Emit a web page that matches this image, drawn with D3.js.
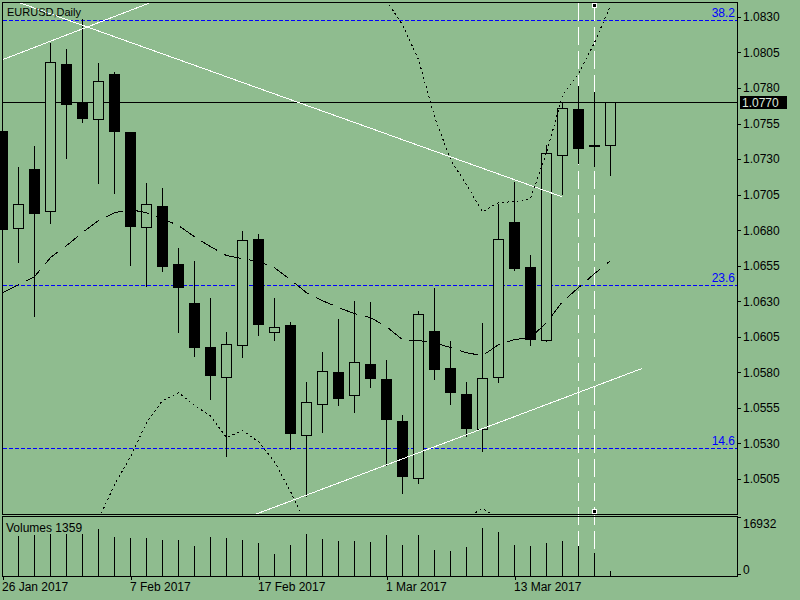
<!DOCTYPE html>
<html>
<head>
<meta charset="utf-8">
<script src="https://cdn.jsdelivr.net/npm/d3@7"></script>
<style>
body { margin: 0; background: #8fbc8f; }
svg { display: block; font-family: "Liberation Sans", Arial, sans-serif; }
line, rect, path { shape-rendering: crispEdges; }
</style>
</head>
<body>
<svg width="800" height="600"></svg>
<script>
const dates = ["26 Jan 2017", "27 Jan 2017", "30 Jan 2017", "31 Jan 2017", "1 Feb 2017", "2 Feb 2017", "3 Feb 2017",
    "6 Feb 2017", "7 Feb 2017", "8 Feb 2017", "9 Feb 2017", "10 Feb 2017", "13 Feb 2017", "14 Feb 2017", "15 Feb 2017",
    "16 Feb 2017", "17 Feb 2017", "20 Feb 2017", "21 Feb 2017", "22 Feb 2017", "23 Feb 2017", "24 Feb 2017", "27 Feb 2017",
    "28 Feb 2017", "1 Mar 2017", "2 Mar 2017", "3 Mar 2017", "6 Mar 2017", "7 Mar 2017", "8 Mar 2017", "9 Mar 2017",
    "10 Mar 2017", "13 Mar 2017", "14 Mar 2017", "15 Mar 2017", "16 Mar 2017", "17 Mar 2017", "20 Mar 2017", "21 Mar 2017"];

const open = [1.07500, 1.06818, 1.07233, 1.06937, 1.07971, 1.07702, 1.07582, 1.07901, 1.07493, 1.06820,
    1.06972, 1.06564, 1.06290, 1.05978, 1.05767, 1.05993, 1.06741, 1.06084, 1.06135, 1.05359,
    1.05577, 1.05805, 1.05641, 1.05861, 1.05756, 1.05460, 1.05054, 1.06093, 1.05833, 1.05650,
    1.05402, 1.05767, 1.06860, 1.06543, 1.06030, 1.07329, 1.07655, 1.07397, 1.07397];
const high = [1.07520, 1.07254, 1.07402, 1.08124, 1.08082, 1.08293, 1.07986, 1.07922, 1.07500, 1.07141,
    1.07106, 1.06684, 1.06593, 1.06332, 1.06093, 1.06799, 1.06780, 1.06332, 1.06159, 1.05741,
    1.05952, 1.06182, 1.06311, 1.06304, 1.05896, 1.05509, 1.06241, 1.06400, 1.06030, 1.05741,
    1.06156, 1.06991, 1.07148, 1.06635, 1.07404, 1.07706, 1.07824, 1.07777, 1.07700];
const low = [1.06720, 1.06579, 1.06199, 1.06851, 1.07305, 1.07559, 1.07129, 1.07059, 1.06557, 1.06405,
    1.06510, 1.06081, 1.05917, 1.05610, 1.05209, 1.05905, 1.06060, 1.06025, 1.05261, 1.04932,
    1.05378, 1.05568, 1.05518, 1.05694, 1.05145, 1.04951, 1.05022, 1.05753, 1.05577, 1.05354,
    1.05247, 1.05729, 1.06517, 1.05995, 1.06023, 1.07057, 1.07273, 1.07249, 1.07186];
const close = [1.06810, 1.06987, 1.06923, 1.07986, 1.07690, 1.07587, 1.07852, 1.07495, 1.06827, 1.06987,
    1.06545, 1.06398, 1.05976, 1.05779, 1.06000, 1.06733, 1.06137, 1.06119, 1.05371, 1.05592,
    1.05810, 1.05617, 1.05873, 1.05758, 1.05469, 1.05068, 1.06211, 1.05824, 1.05659, 1.05406,
    1.05763, 1.06738, 1.06531, 1.06037, 1.07343, 1.07660, 1.07376, 1.07397, 1.07700];

const volumes = [16932, 11480, 11853, 12054, 12054, 12140, 13489, 11193, 10906, 10906,
    10332, 10332, 8610, 11193, 10906, 10332, 9471, 6400, 8897, 12054,
    10619, 10045, 10045, 9758, 11767, 8897, 11767, 7462, 7175, 8323,
    13776, 12628, 8897, 8610, 9471, 10045, 8610, 6601, 1359];

// middle line and the two dotted bands, read per bar (null = off the chart)
const maLine = [1.06360, 1.06417, 1.06473, 1.06607, 1.06691, 1.06783, 1.06867, 1.06923, 1.06944, 1.06923,
    1.06881, 1.06832, 1.06754, 1.06684, 1.06621, 1.06600, 1.06579, 1.06536, 1.06452, 1.06360,
    1.06304, 1.06255, 1.06213, 1.06185, 1.06121, 1.06030, 1.06023, 1.06009, 1.05974, 1.05938,
    1.05917, 1.05995, 1.06030, 1.06044, 1.06149, 1.06297, 1.06396, 1.06494, 1.06586];
const upperBand = [null, null, null, null, null, null, null, null, null, null,
    null, null, null, null, null, null, null, null, null, null,
    null, null, null, 1.08633, 1.08415, 1.08246, 1.08000, 1.07599, 1.07296, 1.07120,
    1.06930, 1.06994, 1.07001, 1.07022, 1.07345, 1.07746, 1.07901, 1.08119, 1.08380];
const lowerBand = [null, null, null, null, null, 1.04482, 1.04764, 1.05010, 1.05207, 1.05446,
    1.05601, 1.05657, 1.05566, 1.05495, 1.05340, 1.05390, 1.05312, 1.05172, 1.04961, 1.04728,
    null, null, null, null, null, null, null, null, null, 1.04778,
    1.04841, 1.04778, null, null, null, null, null, null, null];

const priceTicks = [1.0830, 1.0805, 1.0780, 1.0755, 1.0730, 1.0705, 1.0680, 1.0655, 1.0630, 1.0605, 1.0580, 1.0555, 1.0530, 1.0505];
const dateTicks = [0, 8, 16, 24, 32];

const fibLevels = [
    { label: "38.2", value: 1.08281 },
    { label: "23.6", value: 1.06417 },
    { label: "14.6", value: 1.05270 }
];

// trend lines as [bar index, price] pairs
const trendLines = [
    [[-1.406, 1.07938], [9.844, 1.08427]],
    [[0.469, 1.08424], [34.95, 1.07036]],
    [[14.94, 1.04764], [39.95, 1.05826]]
];
const vLines = [36, 37];
const lastPrice = 1.0770;

const svg = d3.select("svg");
const bg = "#8fbc8f";

const x = d3.scaleLinear().domain([0, 38]).range([2.5, 610.5]);
const y = d3.scaleLinear().domain([1.04806, 1.08401]).range([513.6, 2.6]);
const yv = d3.scaleLinear().domain([0, d3.max(volumes)]).range([576, 517]);
const py = v => Math.round(y(v)) + 0.5;

svg.append("rect").attr("width", 800).attr("height", 600).attr("fill", bg);

svg.append("clipPath").attr("id", "main")
    .append("rect").attr("x", 2.5).attr("y", 2.5).attr("width", 735).attr("height", 512);

// fibo levels
const fib = svg.append("g");
fib.selectAll("line").data(fibLevels).enter().append("line")
    .attr("x1", 3).attr("x2", 737)
    .attr("y1", d => py(d.value)).attr("y2", d => py(d.value))
    .attr("stroke", "#0000ff").attr("stroke-dasharray", "4,2");
fib.selectAll("text").data(fibLevels).enter().append("text")
    .attr("x", 735).attr("y", d => py(d.value) - 4)
    .attr("text-anchor", "end").attr("font-size", 12).attr("fill", "#0000ff")
    .text(d => d.label);

// vertical dashed lines
svg.selectAll(".vline").data(vLines).enter().append("line")
    .attr("class", "vline")
    .attr("x1", d => x(d)).attr("x2", d => x(d))
    .attr("y1", 3).attr("y2", 576)
    .attr("stroke", "#fff").attr("stroke-dasharray", "18,6");

// last price line
svg.append("line")
    .attr("x1", 2.5).attr("x2", 737.5)
    .attr("y1", py(lastPrice)).attr("y2", py(lastPrice))
    .attr("stroke", "#000");

// candles
const candles = svg.append("g").selectAll("g").data(d3.range(dates.length)).enter().append("g");
candles.append("line")
    .attr("x1", i => x(i)).attr("x2", i => x(i))
    .attr("y1", i => py(high[i])).attr("y2", i => py(low[i]))
    .attr("stroke", "#000");
candles.append("rect")
    .attr("x", i => x(i) - 5).attr("width", 10)
    .attr("y", i => Math.min(py(open[i]), py(close[i])))
    .attr("height", i => Math.max(1, Math.abs(py(open[i]) - py(close[i]))))
    .attr("fill", i => close[i] < open[i] ? "#000" : bg)
    .attr("stroke", "#000");

// overlays clipped to the price window
const over = svg.append("g").attr("clip-path", "url(#main)");
over.selectAll(".trend").data(trendLines).enter().append("line")
    .attr("class", "trend")
    .attr("x1", d => x(d[0][0])).attr("y1", d => y(d[0][1]))
    .attr("x2", d => x(d[1][0])).attr("y2", d => y(d[1][1]))
    .attr("stroke", "#fff");

const line = d3.line().defined(d => d != null).x((d, i) => x(i)).y(d => y(d));
over.append("path").attr("d", line(maLine))
    .attr("fill", "none").attr("stroke", "#000").attr("stroke-dasharray", "18,8");
[upperBand, lowerBand].forEach(band => {
    over.append("path").attr("d", line(band))
        .attr("fill", "none").attr("stroke", "#000").attr("stroke-dasharray", "2,3");
});

// selection handles of the vertical line
[5.5, 511.5].forEach(cy => {
    svg.append("rect").attr("x", x(37) - 2.5).attr("y", cy - 2.5).attr("width", 5).attr("height", 5).attr("fill", "#fff");
    svg.append("rect").attr("x", x(37) - 1.5).attr("y", cy - 1.5).attr("width", 3).attr("height", 3).attr("fill", "#000");
});

// volumes
svg.append("g").selectAll("line").data(volumes).enter().append("line")
    .attr("x1", (d, i) => x(i)).attr("x2", (d, i) => x(i))
    .attr("y1", yv(0)).attr("y2", d => Math.round(yv(d)))
    .attr("stroke", "#000");

// frames
svg.append("rect").attr("x", 2.5).attr("y", 2.5).attr("width", 735).attr("height", 512)
    .attr("fill", "none").attr("stroke", "#000");
svg.append("rect").attr("x", 2.5).attr("y", 516.5).attr("width", 735).attr("height", 60)
    .attr("fill", "none").attr("stroke", "#000");

// price axis
const yAxis = svg.append("g").attr("transform", "translate(737,0)")
    .call(d3.axisRight(y).tickValues(priceTicks).tickSize(4).tickPadding(2).tickFormat(d3.format(".4f")));
yAxis.select(".domain").remove();
yAxis.selectAll("text").attr("font-size", 12).attr("font-family", null).attr("fill", "#000");

// date axis
const xAxis = svg.append("g").attr("transform", "translate(0,576)")
    .call(d3.axisBottom(x).tickValues(dateTicks).tickSize(4).tickPadding(2).tickFormat(i => dates[i]));
xAxis.select(".domain").remove();
xAxis.selectAll("text").attr("font-size", 12).attr("font-family", null)
    .attr("text-anchor", "start").attr("x", -1).attr("fill", "#000");

// volume axis
svg.append("line").attr("x1", 737).attr("x2", 741).attr("y1", 517.5).attr("y2", 517.5).attr("stroke", "#000");
svg.append("line").attr("x1", 737).attr("x2", 741).attr("y1", 574.5).attr("y2", 574.5).attr("stroke", "#000");
svg.append("text").attr("x", 743).attr("y", 528).attr("font-size", 12).text(d3.max(volumes));
svg.append("text").attr("x", 743).attr("y", 574).attr("font-size", 12).text("0");

// last price tag
svg.append("rect").attr("x", 739.5).attr("y", py(lastPrice) - 7).attr("width", 47).attr("height", 13).attr("fill", "#000");
svg.append("text").attr("x", 742).attr("y", py(lastPrice) + 4.5).attr("font-size", 12).attr("fill", "#dde8dd")
    .text(d3.format(".4f")(lastPrice));

// titles
svg.append("text").attr("x", 7).attr("y", 16).attr("font-size", 11).text("EURUSD,Daily");
svg.append("text").attr("x", 6).attr("y", 532).attr("font-size", 12).text("Volumes " + volumes[volumes.length - 1]);
</script>
</body>
</html>
